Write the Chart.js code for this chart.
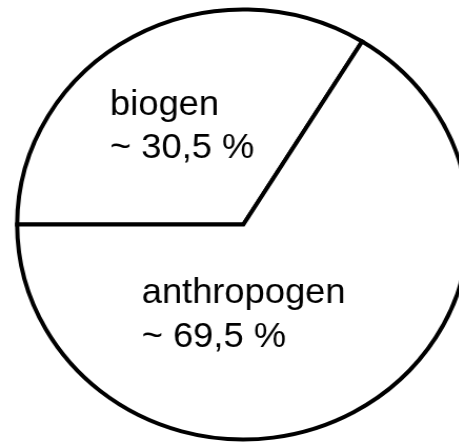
<!DOCTYPE html>
<html>
<head>
<meta charset="utf-8">
<script src="https://cdn.jsdelivr.net/npm/chart.js@4/dist/chart.umd.min.js"></script>
<style>
  html, body { margin: 0; padding: 0; background: #ffffff; overflow: hidden; }
  #wrap { width: 437px; height: 442px; transform: scale(1.052, 1); transform-origin: 0 0; }
  canvas { display: block; }
</style>
</head>
<body>
<div id="wrap"><canvas id="c" width="437" height="442"></canvas></div>
<script>
// Data
const categories = ['biogen', 'anthropogen'];
const shares = [33.8, 66.2];            // slice sizes as drawn
const shareLabels = ['~ 30,5 %', '~ 69,5 %']; // printed labels

const labelPlugin = {
  id: 'sliceLabels',
  afterDraw(chart) {
    const ctx = chart.ctx;
    ctx.save();
    ctx.fillStyle = '#000000';
    ctx.font = '34.5px "Liberation Sans", Arial, sans-serif';
    ctx.textAlign = 'left';
    ctx.textBaseline = 'alphabetic';
    const anchors = [ {x: 104.6, y: 115, gap: 43}, {x: 134.7, y: 303, gap: 44} ];
    categories.forEach((name, i) => {
      const a = anchors[i];
      ctx.fillText(name, a.x, a.y);
      ctx.fillText(shareLabels[i], a.x, a.y + a.gap);
    });
    ctx.restore();
  }
};

new Chart(document.getElementById('c'), {
  type: 'pie',
  data: {
    labels: categories,
    datasets: [{
      data: shares,
      backgroundColor: '#ffffff',
      borderColor: '#000000',
      borderWidth: 4,
      borderJoinStyle: 'miter',
      borderAlign: 'center',
      clip: false
    }]
  },
  options: {
    responsive: false,
    devicePixelRatio: 1,
    animation: false,
    rotation: -90,
    radius: 215,
    layout: { padding: { left: 25.6, top: 7, right: 0, bottom: 0 } },
    plugins: {
      legend: { display: false },
      tooltip: { enabled: false },
      title: { display: false }
    },
    events: []
  },
  plugins: [labelPlugin]
});
</script>
</body>
</html>
